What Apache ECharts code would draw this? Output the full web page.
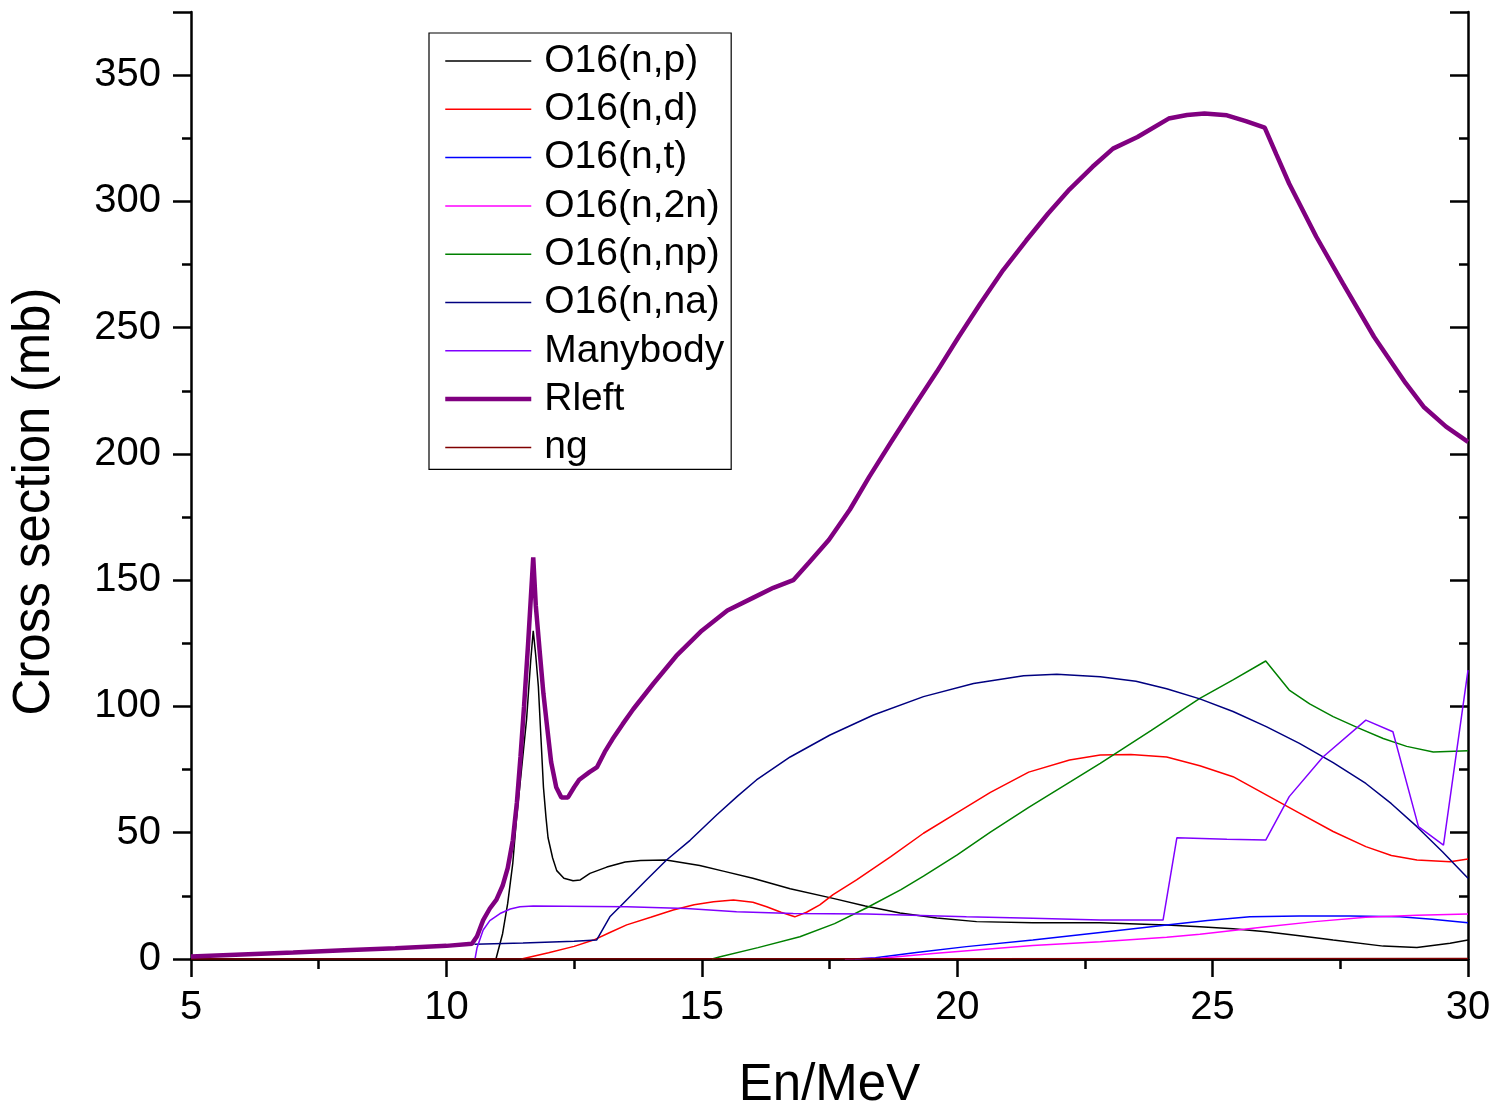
<!DOCTYPE html>
<html>
<head>
<meta charset="utf-8">
<title>O16 neutron reaction cross sections</title>
<script src="https://cdn.jsdelivr.net/npm/echarts@6/dist/echarts.min.js"></script>
<style>
  html, body { margin: 0; padding: 0; background: #fff; }
  #chart { width: 1493px; height: 1107px; }
</style>
</head>
<body>
<div id="chart"></div>
<script>
// Cross sections (mb) versus incident neutron energy En (MeV), as [En, sigma] pairs
const npData = [[10.97,0],[11.1,10],[11.2,22],[11.3,38],[11.37,55],[11.47,75],[11.57,95],[11.65,118],[11.7,130],[11.75,120],[11.8,108],[11.85,88],[11.9,68],[11.95,56],[11.99,48],[12.08,40],[12.16,35],[12.3,32],[12.48,31],[12.62,31.3],[12.81,33.9],[13.14,36.4],[13.5,38.4],[13.8,39],[14.3,39.2],[14.96,37],[15.42,34.8],[16.0,32],[16.73,27.8],[17.57,24],[18.2,21],[18.88,18.2],[19.6,16.2],[20.38,14.8],[21.48,14.4],[22.8,14.4],[24.1,13.5],[24.75,12.8],[25.4,12],[26.05,10.8],[26.7,9.2],[27.36,7.5],[28.34,5.1],[29.0,4.6],[29.65,6.2],[30,7.5]];
const ndData = [[11.47,0],[12.0,2.5],[12.5,5],[12.88,7.5],[13.2,10.5],[13.53,13.5],[14.0,16.5],[14.44,19.4],[14.85,21.5],[15.23,22.7],[15.62,23.4],[16.0,22.5],[16.27,20.7],[16.55,18.5],[16.82,16.7],[17.05,18.5],[17.31,21.4],[17.57,25.5],[18.03,31.3],[18.7,40.5],[19.34,49.8],[20.0,58],[20.65,66],[21.4,74],[22.2,78.8],[22.8,80.8],[23.4,81],[24.1,80],[24.75,76.5],[25.4,72.2],[26.05,65],[26.7,57.8],[27.36,50.5],[28.0,44.5],[28.5,41],[29.0,39.2],[29.65,38.5],[30,39.6]];
const ntData = [[18.0,0],[18.4,0.5],[19.2,2.6],[20.18,4.9],[21.48,7.5],[22.8,10.5],[24.1,13.5],[24.9,15.2],[25.73,16.7],[26.7,17],[27.7,17],[28.67,16.7],[29.3,15.7],[30,14.4]];
const n2nData = [[17.8,0],[18.5,0.3],[19.53,2.2],[20.5,3.8],[21.48,5.3],[22.8,6.8],[24.1,8.6],[24.75,9.8],[26.05,12.8],[27.0,14.8],[28,16.5],[29,17.3],[30,17.8]];
const nnpData = [[15.2,0],[15.36,0.9],[16.1,4.5],[16.92,8.8],[17.6,14],[18.23,20.3],[18.9,27.5],[19.34,32.8],[20.0,41.2],[20.65,50.2],[21.4,60],[22.22,70.2],[22.8,77.5],[23.8,90.5],[24.75,103.2],[25.4,110.5],[26.04,118],[26.5,106.5],[26.9,101],[27.36,96],[27.85,91.5],[28.34,87.3],[28.8,84.2],[29.32,82],[30,82.5]];
const nnaData = [[10.55,5.8],[11.5,6.3],[12.5,7],[12.94,7.5],[13.2,16.7],[13.46,22],[13.9,31],[14.31,39.2],[14.77,47],[15.29,57],[15.7,64.5],[16.07,70.9],[16.73,80],[17.51,88.7],[18.36,96.6],[19.34,103.9],[20.32,109.1],[21.3,112.2],[21.95,112.8],[22.8,111.8],[23.5,110],[24.1,107],[24.75,103],[25.4,98],[26.05,92],[26.7,85.4],[27.36,77.8],[28,69.5],[28.5,61.5],[29,52.4],[29.5,42.5],[30,32]];
const manybodyData = [[10.56,0],[10.6,4.5],[10.72,11.5],[10.85,15.2],[11.05,18],[11.25,19.8],[11.44,20.7],[11.7,21],[13.53,20.7],[14.7,20],[15.68,18.7],[16.79,18],[18.23,17.8],[20.18,16.7],[21.48,16.1],[22.8,15.4],[24.03,15.4],[24.3,48],[25.28,47.4],[26.04,47.1],[26.5,64.3],[27.16,80],[28.0,94.6],[28.53,90],[29.03,52.4],[29.52,45.1],[30,114.4]];
const rleftData = [[5,1.0],[6,1.8],[7,2.6],[8,3.5],[9,4.3],[10,5.2],[10.5,6],[10.6,9],[10.72,15.4],[10.85,20],[10.98,23.5],[11.1,29],[11.2,36],[11.3,47],[11.38,62],[11.45,80],[11.52,100],[11.6,125],[11.65,142],[11.7,159],[11.75,140],[11.83,121],[11.9,105],[11.96,94],[12.05,78],[12.15,68],[12.25,64],[12.38,64],[12.5,68],[12.6,71],[12.8,74],[12.95,76],[13.1,82],[13.25,87],[13.45,93],[13.66,99],[14.05,109],[14.5,120],[15.0,130],[15.5,138],[16.0,143],[16.4,147],[16.79,150],[17.1,157],[17.49,166],[17.9,178],[18.28,191],[18.7,204.5],[19.15,218.7],[19.6,232.5],[20.03,246.4],[20.45,259.5],[20.9,272.8],[21.35,284.5],[21.78,295.2],[22.2,304.8],[22.65,313.7],[23.05,320.9],[23.53,325.5],[24.14,332.8],[24.5,334.2],[24.84,334.8],[25.28,334.1],[25.65,331.8],[26.02,329.2],[26.25,318.5],[26.5,307],[27.03,286],[27.55,267.5],[28.16,246.4],[28.78,228],[29.13,218.7],[29.57,210.8],[30,204.8]];
const ngData = [[5,0],[10,0],[20,0.1],[30,0.2]];

const seriesNames = ['O16(n,p)', 'O16(n,d)', 'O16(n,t)', 'O16(n,2n)', 'O16(n,np)', 'O16(n,na)', 'Manybody', 'Rleft', 'ng'];
const seriesData = [npData, ndData, ntData, n2nData, nnpData, nnaData, manybodyData, rleftData, ngData];
const seriesColors = ['#000000', '#ff0000', '#0000ff', '#ff00ff', '#008000', '#000080', '#8000ff', '#800080', '#800000'];
const seriesWidths = [1.5, 1.5, 1.5, 1.5, 1.5, 1.5, 1.5, 4.5, 1.5];

const FONT = 'Liberation Sans, Arial, sans-serif';

const chart = echarts.init(document.getElementById('chart'), null, { renderer: 'canvas' });

const axisLine = { show: true, lineStyle: { color: '#000', width: 2.5 } };

const option = {
  backgroundColor: '#fff',
  animation: false,
  grid: { left: 191, right: 25, top: 12, bottom: 148, containLabel: false, outerBoundsMode: 'none' },
  legend: {
    orient: 'vertical',
    left: 429,
    top: 33,
    padding: [8, 7, 2, 14],
    itemWidth: 86,
    itemHeight: 14,
    itemGap: 8.3,
    borderColor: '#000',
    borderWidth: 1.2,
    borderRadius: 0,
    backgroundColor: '#fff',
    selectedMode: false,
    itemStyle: { opacity: 0 },
    data: seriesNames.map((name, i) => ({ name: name, lineStyle: { width: seriesWidths[i] } })),
    textStyle: { fontFamily: FONT, fontSize: 39, color: '#000', lineHeight: 40, padding: [0, 0, 0, 8] }
  },
  xAxis: [
    {
      type: 'value', position: 'bottom', min: 5, max: 30, interval: 5,
      name: 'En/MeV', nameLocation: 'middle', nameGap: 101,
      nameTextStyle: { fontFamily: FONT, fontSize: 51, color: '#000' },
      axisLine: axisLine,
      axisTick: { show: true, inside: false, length: 18, lineStyle: { color: '#000', width: 2.5 } },
      minorTick: { show: true, splitNumber: 2, length: 10, lineStyle: { color: '#000', width: 2.5 } },
      axisLabel: { fontFamily: FONT, fontSize: 40, color: '#000', margin: 29 },
      splitLine: { show: false }
    },
    {
      type: 'value', position: 'top', min: 5, max: 30, interval: 5,
      axisLine: axisLine,
      axisTick: { show: true, inside: true, length: 18, lineStyle: { color: '#000', width: 2.5 } },
      minorTick: { show: true, splitNumber: 2, length: 10, lineStyle: { color: '#000', width: 2.5 } },
      axisLabel: { show: false },
      splitLine: { show: false }
    }
  ],
  yAxis: [
    {
      type: 'value', position: 'left', min: 0, max: 375, interval: 50,
      name: 'Cross section (mb)', nameLocation: 'middle', nameGap: 131,
      nameTextStyle: { fontFamily: FONT, fontSize: 51, color: '#000', padding: [0, 32, 0, 0] },
      axisLine: axisLine,
      axisTick: { show: true, inside: false, length: 18, lineStyle: { color: '#000', width: 2.5 } },
      minorTick: { show: true, splitNumber: 2, length: 9, lineStyle: { color: '#000', width: 2.5 } },
      axisLabel: { fontFamily: FONT, fontSize: 40, color: '#000', margin: 30, showMaxLabel: false },
      splitLine: { show: false }
    },
    {
      type: 'value', position: 'right', min: 0, max: 375, interval: 50,
      axisLine: axisLine,
      axisTick: { show: true, inside: true, length: 18, lineStyle: { color: '#000', width: 2.5 } },
      minorTick: { show: true, splitNumber: 2, length: 9, lineStyle: { color: '#000', width: 2.5 } },
      axisLabel: { show: false },
      splitLine: { show: false }
    }
  ],
  series: seriesNames.map((name, i) => ({
    name: name,
    type: 'line',
    xAxisIndex: 0,
    yAxisIndex: 0,
    data: seriesData[i],
    symbol: 'none',
    smooth: false,
    clip: true,
    color: seriesColors[i],
    lineStyle: { color: seriesColors[i], width: seriesWidths[i] },
    z: i === 7 ? 3 : 2
  }))
};

chart.setOption(option);
</script>
</body>
</html>
